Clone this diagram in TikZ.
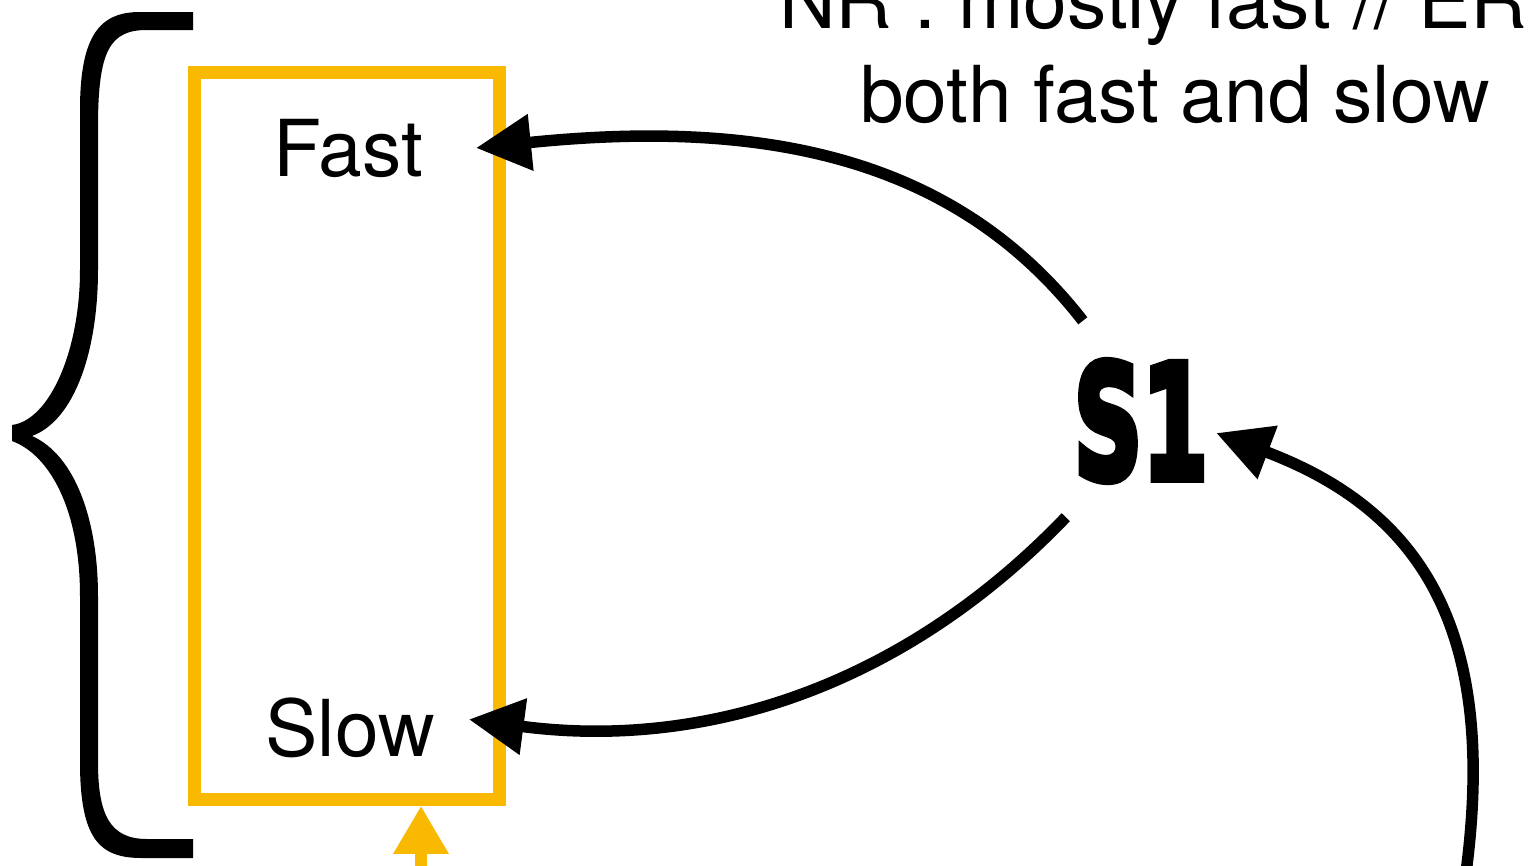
\documentclass[tikz,border=0pt]{standalone}
\usepackage{fontspec}
\usepackage{graphicx}
\setmainfont{TeX Gyre Heros}
\newfontfamily\sonefont{DejaVu Sans}[BoldFeatures={FakeBold=5.5}]
\usetikzlibrary{arrows.meta}
\definecolor{ambr}{RGB}{248,185,0}
\tikzset{
  label78/.style={inner sep=0pt, font=\fontsize{78.5}{94}\selectfont},
  flow/.style={line width=11.5pt, -{Triangle[length=55pt,width=54pt]}},
  feedarrow/.style={draw=ambr, line width=12.5pt, -{Triangle[length=48pt,width=52pt]}},
  ratebox/.style={draw=ambr, line width=12.5pt, minimum width=305pt, minimum height=727pt, inner sep=0pt},
}
\begin{document}
\begin{tikzpicture}[x=1pt,y=-1pt]
\useasboundingbox (0,0) rectangle (1538,865);
\clip (0,0) rectangle (1538,865);

% curly brace on the left
\fill[black] (193,12) -- (140,12) .. controls (100,12) and (80,35) .. (80,110)
  -- (80,270) .. controls (80,350) and (50,420) .. (12,425)
  -- (12,441) .. controls (50,455) and (80,510) .. (80,596)
  -- (80,762) .. controls (80,840) and (100,858) .. (142,858)
  -- (193,858) -- (193,839) -- (147,839) .. controls (110,839) and (98,815) .. (98,762)
  -- (98,596) .. controls (98,520) and (75,455) .. (32,436)
  .. controls (75,420) and (98,350) .. (98,270)
  -- (98,127) .. controls (98,50) and (110,30) .. (147,30)
  -- (193,30) -- cycle;

% the two-state box
\node[ratebox] (box) at (347,436) {};
\node[label78, anchor=base] (fast) at (348,176) {Fast};
\node[label78, anchor=base] (slow) at (350,756) {Slow};

% heading at the top right
\node[label78, anchor=base west] (head1) at (779,28) {NR : mostly fast // ER};
\node[label78, anchor=base] (head2) at (1175,122) {both fast and slow};

% state S1
\node[inner sep=0pt, minimum width=150pt, minimum height=200pt] (s1) at (1141,421)
  {\scalebox{0.6}[1]{\sonefont\bfseries\fontsize{158}{158}\selectfont S1}};

% connectors
\coordinate (inlet) at (1462,900);
\coordinate (feed) at (421,900);

\draw[feedarrow] (feed) -- ([xshift=74pt]box.south);
\draw[flow] ([xshift=17pt]s1.north west) .. controls (950,150) and (750,120) .. ([xshift=53pt]fast.east);
\draw[flow] ([yshift=4pt]s1.south west) .. controls (900,690) and (700,750) .. ([xshift=34pt,yshift=8pt]slow.east);
\draw[flow] (inlet) .. controls (1505,630) and (1420,510) .. ([yshift=-12pt]s1.east);
\end{tikzpicture}
\end{document}
